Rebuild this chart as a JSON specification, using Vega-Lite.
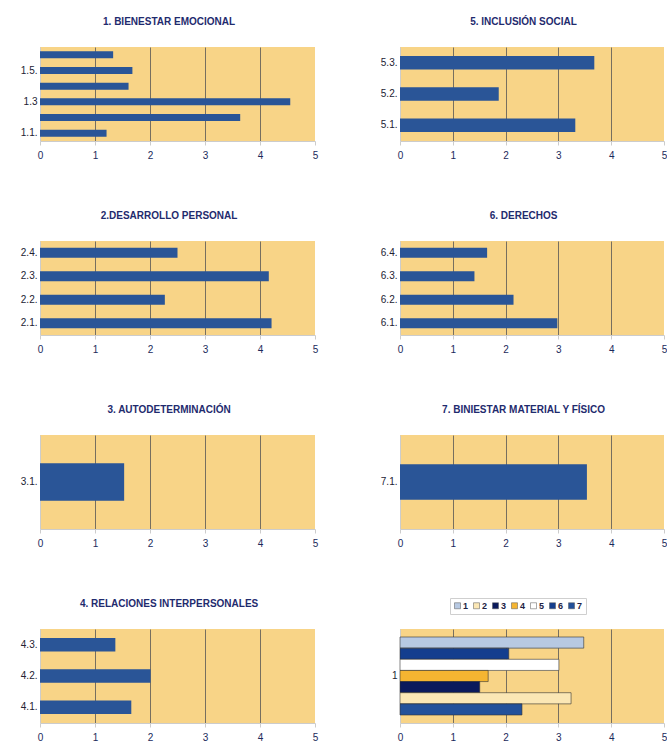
{
  "$schema": "https://vega.github.io/schema/vega-lite/v6.json",
  "padding": {"left": 20, "top": 17, "right": 0, "bottom": 4},
  "background": "#ffffff",
  "datasets": {
    "p1": [
      {"item": "1.1.", "valor": 1.21},
      {"item": "1.2.", "valor": 3.64},
      {"item": "1.3", "valor": 4.55},
      {"item": "1.4.", "valor": 1.61},
      {"item": "1.5.", "valor": 1.68},
      {"item": "1.6.", "valor": 1.33}
    ],
    "p2": [
      {"item": "2.1.", "valor": 4.21},
      {"item": "2.2.", "valor": 2.27},
      {"item": "2.3.", "valor": 4.16},
      {"item": "2.4.", "valor": 2.5}
    ],
    "p3": [
      {"item": "3.1.", "valor": 1.53}
    ],
    "p4": [
      {"item": "4.1.", "valor": 1.66},
      {"item": "4.2.", "valor": 2.01},
      {"item": "4.3.", "valor": 1.37}
    ],
    "p5": [
      {"item": "5.1.", "valor": 3.32},
      {"item": "5.2.", "valor": 1.87},
      {"item": "5.3.", "valor": 3.68}
    ],
    "p6": [
      {"item": "6.1.", "valor": 2.98},
      {"item": "6.2.", "valor": 2.15},
      {"item": "6.3.", "valor": 1.41},
      {"item": "6.4.", "valor": 1.65}
    ],
    "p7": [
      {"item": "7.1.", "valor": 3.54}
    ],
    "p8": [
      {"grupo": "1", "serie": "1", "valor": 3.48},
      {"grupo": "1", "serie": "6", "valor": 2.06},
      {"grupo": "1", "serie": "5", "valor": 3.01},
      {"grupo": "1", "serie": "4", "valor": 1.67},
      {"grupo": "1", "serie": "3", "valor": 1.51},
      {"grupo": "1", "serie": "2", "valor": 3.24},
      {"grupo": "1", "serie": "7", "valor": 2.31}
    ]
  },
  "columns": 2,
  "bounds": "flush",
  "spacing": {"row": 100, "column": 85},
  "resolve": {"scale": {"color": "independent"}, "legend": {"color": "independent"}},
  "concat": [
    {
      "width": 275, "height": 94,
      "title": {"text": "1. BIENESTAR EMOCIONAL"},
      "data": {"name": "p1"},
      "mark": {"type": "bar", "color": "#2A5597"},
      "encoding": {
        "y": {"field": "item", "type": "nominal", "sort": "descending", "scale": {"paddingInner": 0.55, "paddingOuter": 0.275},
              "axis": {"title": null, "labelExpr": "indexof(['1.2.','1.4.','1.6.'], datum.value) >= 0 ? '' : datum.value"}},
        "x": {"field": "valor", "type": "quantitative", "scale": {"domain": [0, 5], "nice": false}, "axis": {"title": null, "values": [0, 1, 2, 3, 4, 5]}}
      }
    },
    {
      "width": 264, "height": 94,
      "title": {"text": "5. INCLUSIÓN SOCIAL"},
      "data": {"name": "p5"},
      "mark": {"type": "bar", "color": "#2A5597"},
      "encoding": {
        "y": {"field": "item", "type": "nominal", "sort": "descending", "scale": {"paddingInner": 0.57, "paddingOuter": 0.285}, "axis": {"title": null}},
        "x": {"field": "valor", "type": "quantitative", "scale": {"domain": [0, 5], "nice": false}, "axis": {"title": null, "values": [0, 1, 2, 3, 4, 5]}}
      }
    },
    {
      "width": 275, "height": 94,
      "title": {"text": "2.DESARROLLO PERSONAL"},
      "data": {"name": "p2"},
      "mark": {"type": "bar", "color": "#2A5597"},
      "encoding": {
        "y": {"field": "item", "type": "nominal", "sort": "descending", "scale": {"paddingInner": 0.57, "paddingOuter": 0.285}, "axis": {"title": null}},
        "x": {"field": "valor", "type": "quantitative", "scale": {"domain": [0, 5], "nice": false}, "axis": {"title": null, "values": [0, 1, 2, 3, 4, 5]}}
      }
    },
    {
      "width": 264, "height": 94,
      "title": {"text": "6. DERECHOS"},
      "data": {"name": "p6"},
      "mark": {"type": "bar", "color": "#2A5597"},
      "encoding": {
        "y": {"field": "item", "type": "nominal", "sort": "descending", "scale": {"paddingInner": 0.57, "paddingOuter": 0.285}, "axis": {"title": null}},
        "x": {"field": "valor", "type": "quantitative", "scale": {"domain": [0, 5], "nice": false}, "axis": {"title": null, "values": [0, 1, 2, 3, 4, 5]}}
      }
    },
    {
      "width": 275, "height": 94,
      "title": {"text": "3. AUTODETERMINACIÓN"},
      "data": {"name": "p3"},
      "mark": {"type": "bar", "color": "#2A5597"},
      "encoding": {
        "y": {"field": "item", "type": "nominal", "sort": "descending", "scale": {"paddingInner": 0.6, "paddingOuter": 0.3}, "axis": {"title": null}},
        "x": {"field": "valor", "type": "quantitative", "scale": {"domain": [0, 5], "nice": false}, "axis": {"title": null, "values": [0, 1, 2, 3, 4, 5]}}
      }
    },
    {
      "width": 264, "height": 94,
      "title": {"text": "7. BINIESTAR MATERIAL Y FÍSICO"},
      "data": {"name": "p7"},
      "mark": {"type": "bar", "color": "#2A5597"},
      "encoding": {
        "y": {"field": "item", "type": "nominal", "sort": "descending", "scale": {"paddingInner": 0.62, "paddingOuter": 0.31}, "axis": {"title": null}},
        "x": {"field": "valor", "type": "quantitative", "scale": {"domain": [0, 5], "nice": false}, "axis": {"title": null, "values": [0, 1, 2, 3, 4, 5]}}
      }
    },
    {
      "width": 275, "height": 94,
      "title": {"text": "4. RELACIONES INTERPERSONALES"},
      "data": {"name": "p4"},
      "mark": {"type": "bar", "color": "#2A5597"},
      "encoding": {
        "y": {"field": "item", "type": "nominal", "sort": "descending", "scale": {"paddingInner": 0.57, "paddingOuter": 0.285}, "axis": {"title": null}},
        "x": {"field": "valor", "type": "quantitative", "scale": {"domain": [0, 5], "nice": false}, "axis": {"title": null, "values": [0, 1, 2, 3, 4, 5]}}
      }
    },
    {
      "width": 264, "height": 94,
      "data": {"name": "p8"},
      "mark": {"type": "bar", "stroke": "#333333", "strokeWidth": 0.6},
      "encoding": {
        "y": {"field": "grupo", "type": "nominal", "scale": {"paddingInner": 0.17, "paddingOuter": 0.085}, "axis": {"title": null}},
        "yOffset": {"field": "serie", "type": "nominal", "sort": ["1", "6", "5", "4", "3", "2", "7"], "scale": {"paddingInner": 0, "paddingOuter": 0}},
        "x": {"field": "valor", "type": "quantitative", "scale": {"domain": [0, 5], "nice": false}, "axis": {"title": null, "values": [0, 1, 2, 3, 4, 5]}},
        "color": {"field": "serie", "type": "nominal",
                  "scale": {"domain": ["1", "2", "3", "4", "5", "6", "7"], "range": ["#B7C9E2", "#FBE7B5", "#0B1A5C", "#F5B531", "#FFFFFF", "#143E8E", "#23519A"]},
                  "legend": {"orient": "none", "legendX": 50, "legendY": -31, "direction": "horizontal", "title": null,
                             "symbolType": "square", "symbolSize": 36, "symbolStrokeColor": "#555555", "symbolStrokeWidth": 0.5,
                             "labelFontSize": 9, "labelFontWeight": "bold", "labelColor": "#222244", "labelOffset": 1, "columnPadding": 3,
                             "padding": 3, "strokeColor": "#cfcfcf"}}
      }
    }
  ],
  "config": {
    "font": "Liberation Sans",
    "view": {"fill": "#F8D487", "stroke": null},
    "title": {"frame": "bounds", "anchor": "middle", "fontSize": 10, "fontWeight": "bold", "color": "#1F2B6E", "offset": 20},
    "axisY": {"ticks": false, "labelPadding": 3, "labelFontSize": 10, "labelColor": "#222233", "domainColor": "#cccccc", "grid": false},
    "axisX": {"tickSize": 4, "tickColor": "#cccccc", "labelPadding": 5, "labelFontSize": 10, "labelColor": "#1B2A5C", "labelFlush": false,
              "domainColor": "#cccccc", "grid": true, "gridColor": "#555555", "gridWidth": 0.8,
              "gridOpacity": {"condition": {"test": "datum.value == 0 || datum.value == 5", "value": 0}, "value": 1}}
  }
}
